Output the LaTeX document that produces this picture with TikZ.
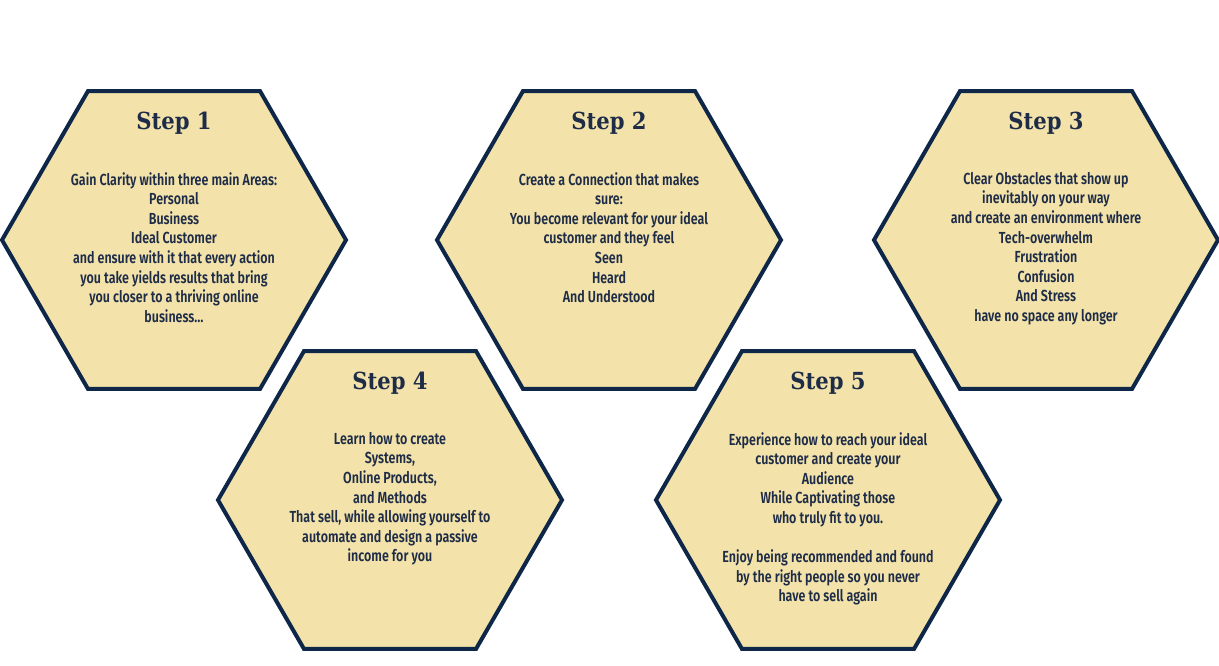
\documentclass[tikz,border=0pt]{standalone}
\usepackage{fontspec}
\setmainfont{Fira Sans}[FakeStretch=0.78, UprightFont={* SemiBold}]
\newfontfamily\titlefont{DejaVu Serif}[FakeStretch=0.9]
\usetikzlibrary{shapes.geometric,positioning}
\definecolor{hexfill}{HTML}{F3E3AA}
\definecolor{hexline}{HTML}{0E2748}
\definecolor{hextext}{HTML}{1E2C48}
\tikzstyle{hexagon}=[regular polygon,regular polygon sides=6,minimum size=344pt,inner sep=0pt,draw=hexline,fill=hexfill,line width=4pt]
\tikzstyle{step title}=[font=\titlefont\bfseries\fontsize{23.5}{28}\selectfont,text=hextext,anchor=base]
\tikzstyle{step text}=[font=\fontsize{16}{19.6}\selectfont,text=hextext,align=center,inner sep=0pt,anchor=north]

\begin{document}
\begin{tikzpicture}[x=1pt,y=-1pt]
    \useasboundingbox (0,0) rectangle (1219,665);
    % First we draw the hexagons
    \foreach \pos/\name in {{(174,240)/h1}, {(609,240)/h2}, {(1046,240)/h3}, {(390,500)/h4}, {(828,500)/h5}}
        \node[hexagon] (\name) at \pos {};

    % Then the step titles
    \foreach \name/\num in {h1/1, h2/2, h3/3, h4/4, h5/5}
        \node[step title] (\name title) at ([yshift=111pt]\name.center) {Step \num};

    % And the text of each step
    \node[step text] (h1 text) at ([yshift=68pt]h1.center) {Gain Clarity within three main Areas:\\Personal\\Business\\Ideal Customer\\and ensure with it that every action\\you take yields results that bring\\you closer to a thriving online\\business\ldots};
    \node[step text] (h2 text) at ([yshift=68pt]h2.center) {Create a Connection that makes\\sure:\\You become relevant for your ideal\\customer and they feel\\Seen\\Heard\\And Understood};
    \node[step text] (h3 text) at ([yshift=68pt]h3.center) {Clear Obstacles that show up\\inevitably on your way\\and create an environment where\\Tech-overwhelm\\Frustration\\Confusion\\And Stress\\have no space any longer};
    \node[step text] (h4 text) at ([yshift=68pt]h4.center) {Learn how to create\\Systems,\\Online Products,\\and Methods\\That sell, while allowing yourself to\\automate and design a passive\\income for you};
    \node[step text] (h5 text) at ([yshift=68pt]h5.center) {Experience how to reach your ideal\\customer and create your\\Audience\\While Captivating those\\who truly fit to you.\\[19.6pt]Enjoy being recommended and found\\by the right people so you never\\have to sell again};
\end{tikzpicture}
\end{document}
